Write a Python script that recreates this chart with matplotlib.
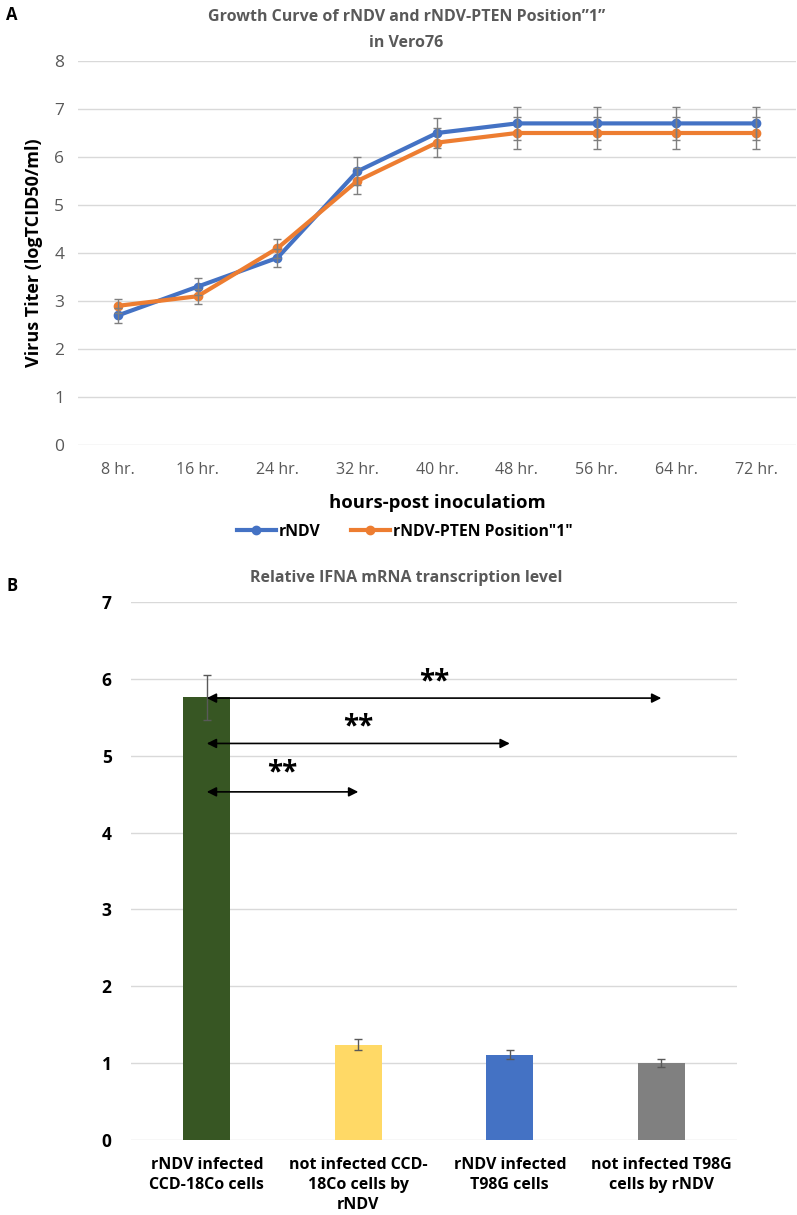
import numpy as np
import matplotlib.pyplot as plt
from matplotlib.lines import Line2D

plt.rcParams['font.family'] = ['Open Sans', 'DejaVu Sans']

# Panel A data
hours = ['8 hr.', '16 hr.', '24 hr.', '32 hr.', '40 hr.', '48 hr.', '56 hr.', '64 hr.', '72 hr.']
rndv = [2.7, 3.3, 3.9, 5.7, 6.5, 6.7, 6.7, 6.7, 6.7]
rndv_err = [0.15, 0.17, 0.19, 0.29, 0.32, 0.34, 0.34, 0.34, 0.34]
pten = [2.9, 3.1, 4.1, 5.5, 6.3, 6.5, 6.5, 6.5, 6.5]
pten_err = [0.14, 0.16, 0.2, 0.27, 0.31, 0.33, 0.33, 0.33, 0.33]

# Panel B data
groups = ['rNDV infected\nCCD-18Co cells', 'not infected CCD-\n18Co cells by\nrNDV',
          'rNDV infected\nT98G cells', 'not infected T98G\ncells by rNDV']
ifna = [5.76, 1.24, 1.11, 1.0]
ifna_err = [0.29, 0.07, 0.06, 0.05]
bar_colors = ['#375623', '#FFD966', '#4472C4', '#808080']
# significance comparisons: (from, to, arrow level, star level)
comparisons = [(0, 3, 5.75, 5.96), (0, 2, 5.16, 5.38), (0, 1, 4.53, 4.78)]

fig = plt.figure(figsize=(7.97, 12.15), dpi=100)
grid_c = '#d9d9d9'
txt_c = '#595959'

# ---------- Panel A ----------
ax = fig.add_axes([0.0979, 0.6337, 0.9008, 0.3161])
x = np.arange(len(hours))
ax.plot(x, rndv, color='#4472C4', lw=3, marker='o', ms=6, zorder=3)
ax.plot(x, pten, color='#ED7D31', lw=3, marker='o', ms=6, zorder=4)
ax.errorbar(x, rndv, yerr=rndv_err, fmt='none', ecolor='#7f7f7f', elinewidth=1, capsize=3, zorder=5)
ax.errorbar(x, pten, yerr=pten_err, fmt='none', ecolor='#7f7f7f', elinewidth=1, capsize=3, zorder=5)
ax.set_xlim(-0.5, len(hours) - 0.5)
ax.set_ylim(0, 8)
ax.set_yticks(range(0, 9))
ax.set_xticks(x)
ax.set_xticklabels(hours)
ax.grid(axis='y', color=grid_c, lw=1)
ax.set_axisbelow(True)
for s in ax.spines.values():
    s.set_visible(False)
ax.tick_params(axis='x', length=0, labelsize=11.5, labelcolor=txt_c, pad=12)
ax.tick_params(axis='y', length=0, labelsize=12.5, labelcolor=txt_c, pad=10)
ax.set_ylabel('Virus Titer (logTCID50/ml)', fontsize=13, fontweight='bold', color='black', labelpad=8)
ax.set_xlabel('hours-post inoculatiom', fontsize=13.3, fontweight='bold', color='black', labelpad=12)
fig.text(0.51, 0.986, 'Growth Curve of rNDV and rNDV-PTEN Position\u201d1\u201d',
         ha='center', va='center', fontsize=11.5, fontweight='bold', color=txt_c)
fig.text(0.51, 0.965, 'in Vero76', ha='center', va='center', fontsize=11.5, fontweight='bold', color=txt_c)
fig.text(0.008, 0.988, 'A', fontsize=12, fontweight='bold', va='center')
handles = [Line2D([], [], color='#4472C4', lw=3, marker='o', ms=6),
           Line2D([], [], color='#ED7D31', lw=3, marker='o', ms=6)]
fig.legend(handles, ['rNDV', 'rNDV-PTEN Position"1"'], loc='center', bbox_to_anchor=(0.508, 0.5622),
           ncol=2, frameon=False, prop={'weight': 'bold', 'size': 11.3},
           handlelength=2.5, handletextpad=0.2, columnspacing=1.9)

# ---------- Panel B ----------
bx = fig.add_axes([0.1644, 0.0617, 0.7604, 0.4428])
xb = np.arange(len(groups))
bx.bar(xb, ifna, width=0.31, color=bar_colors, zorder=2)
bx.errorbar(xb, ifna, yerr=ifna_err, fmt='none', ecolor='#595959', elinewidth=1, capsize=3, zorder=3)
bx.set_xlim(-0.5, len(groups) - 0.5)
bx.set_ylim(0, 7)
bx.set_yticks(range(0, 8))
bx.set_xticks(xb)
bx.set_xticklabels(groups, linespacing=1.35)
bx.grid(axis='y', color=grid_c, lw=1)
bx.set_axisbelow(True)
for s in bx.spines.values():
    s.set_visible(False)
bx.tick_params(axis='x', length=0, labelsize=11.5, pad=12)
bx.tick_params(axis='y', length=0, labelsize=12.5, pad=14)
for t in bx.get_xticklabels() + bx.get_yticklabels():
    t.set_fontweight('bold')
for a, b, ya, ys in comparisons:
    bx.annotate('', xy=(b, ya), xytext=(a, ya),
                arrowprops=dict(arrowstyle='<|-|>', color='black', lw=1.2, mutation_scale=14,
                                shrinkA=0, shrinkB=0), zorder=4)
    bx.text((a + b) / 2, ys, '**', ha='center', va='center', fontsize=20, fontweight='bold')
fig.text(0.51, 0.5243, 'Relative IFNA mRNA transcription level', ha='center', va='center',
         fontsize=11.5, fontweight='bold', color=txt_c)
fig.text(0.008, 0.518, 'B', fontsize=12, fontweight='bold', va='center')

fig.savefig('out.png', dpi=100)
